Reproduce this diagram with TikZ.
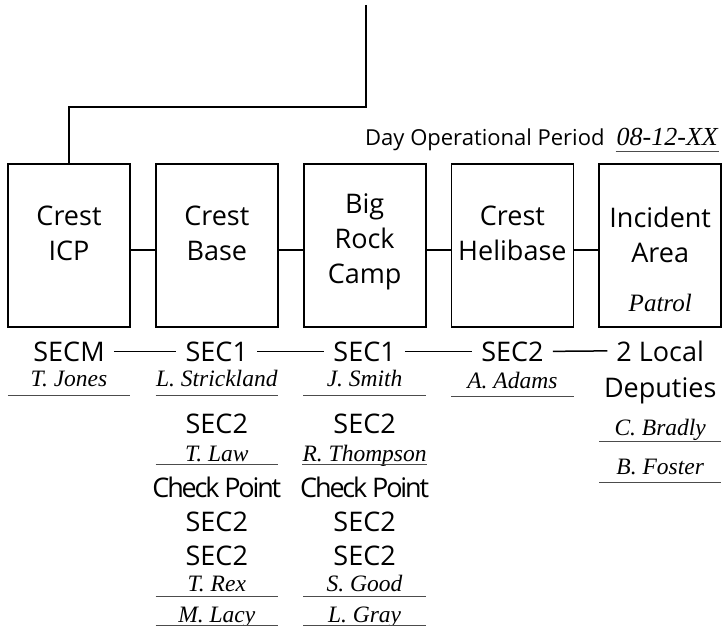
\documentclass[tikz,border=0pt]{standalone}
\usepackage{fontspec}
\setmainfont{Open Sans}
\newfontfamily\namefam{Liberation Serif}
\usetikzlibrary{positioning}
\usetikzlibrary{calc}
\tikzset{
  site/.style={draw, line width=1.8pt, minimum width=122pt, minimum height=163pt, inner sep=0},
  title/.style={inner sep=0, align=center, font=\fontsize{27}{35}\selectfont},
  role/.style={anchor=base, inner xsep=9pt, inner ysep=0, font=\fontsize{27}{32}\selectfont},
  uline/.style={inner sep=0, text depth=#1,
    append after command={(\tikzlastnode.south west) edge[rule] (\tikzlastnode.south east)}},
  uline/.default=8pt,
  person/.style={uline=#1, anchor=base, minimum width=122pt,
    font=\namefam\itshape\fontsize{23.5}{26}\selectfont},
  person/.default=8pt,
  rule/.style={line width=1.2pt, black!70},
  link/.style={line width=1.5pt}
}
\begin{document}
\begin{tikzpicture}[x=1pt, y=-1pt]
\useasboundingbox (0,0) rectangle (725,626);

\node[site] (icp) at (69,245.5) {};
\node[site, right=24pt of icp] (base) {};
\node[site, right=24pt of base] (camp) {};
\node[site, right=24pt of camp] (heli) {};
\node[site, right=24pt of heli] (area) {};

\node[title, below=43pt of icp.north] (icpt) {Crest\\ICP};
\node[title, below=43pt of base.north] (baset) {Crest\\Base};
\node[title, below=30pt of camp.north] (campt) {Big\\Rock\\Camp};
\node[title, below=43pt of heli.north] (helit) {Crest\\Helibase};
\node[title, below=44pt of area.north] (areat) {Incident\\Area};
\node[anchor=base, inner sep=0, font=\namefam\itshape\fontsize{25}{28}\selectfont]
  (patrol) at (area |- 0,311) {Patrol};

\coordinate (top) at (366,5);
\draw[line width=1.8pt] (top) -- ++(0,102) -| (icp.north);
\foreach \a/\b in {icp/base, base/camp, camp/heli, heli/area}
  \draw[link] ([yshift=-4.5pt]\a.east) -- ([yshift=-4.5pt]\b.west);

\node[anchor=base west, inner sep=0, font=\fontsize{22}{26}\selectfont]
  (period) at (365,145) {Day Operational Period};
\node[uline=6pt, inner xsep=1pt, anchor=base east, font=\namefam\itshape\fontsize{26}{28}\selectfont]
  (date) at (719,145) {08-12-XX};

\node[role] (secm) at (icp |- 0,361) {SECM};
\node[role] (base1) at (base |- 0,361) {SEC1};
\node[role] (camp1) at (camp |- 0,361) {SEC1};
\node[role] (heli1) at (heli |- 0,361) {SEC2};
\node[role] (local) at (area |- 0,361) {2 Local};
\node[role] (deputies) at (area |- 0,397) {Deputies};
\foreach \a/\b in {secm/base1, base1/camp1, camp1/heli1, heli1/local}
  \draw[link] (\a.east) -- (\b.west);

\node[person=9pt] (jones) at (icp |- 0,386) {T. Jones};
\node[person=9pt] (strickland) at (base |- 0,386) {L. Strickland};
\node[person=9pt] (smith) at (camp |- 0,386) {J. Smith};
\node[person=8pt] (adams) at (heli |- 0,388) {A. Adams};
\node[person=6pt] (bradly) at (area |- 0,435) {C. Bradly};
\node[person=8pt] (foster) at (area |- 0,474) {B. Foster};

\node[role] (base2) at (base |- 0,433) {SEC2};
\node[person=3pt] (law) at (base |- 0,461) {T. Law};
\node[role, font=\fontsize{27}{32}\selectfont\addfontfeature{LetterSpace=-8}]
  (basecp) at (base |- 0,497) {Check Point};
\node[role] (base3) at (base |- 0,531) {SEC2};
\node[role] (base4) at (base |- 0,565) {SEC2};
\node[person=5pt] (rex) at (base |- 0,591) {T. Rex};
\node[person=3pt] (lacy) at (base |- 0,622) {M. Lacy};

\node[role] (camp2) at (camp |- 0,433) {SEC2};
\node[person=3pt] (thompson) at (camp |- 0,461) {R. Thompson};
\node[role, font=\fontsize{27}{32}\selectfont\addfontfeature{LetterSpace=-8}]
  (campcp) at (camp |- 0,497) {Check Point};
\node[role] (camp3) at (camp |- 0,531) {SEC2};
\node[role] (camp4) at (camp |- 0,565) {SEC2};
\node[person=5pt] (good) at (camp |- 0,591) {S. Good};
\node[person=3pt] (gray) at (camp |- 0,622) {L. Gray};
\end{tikzpicture}
\end{document}
